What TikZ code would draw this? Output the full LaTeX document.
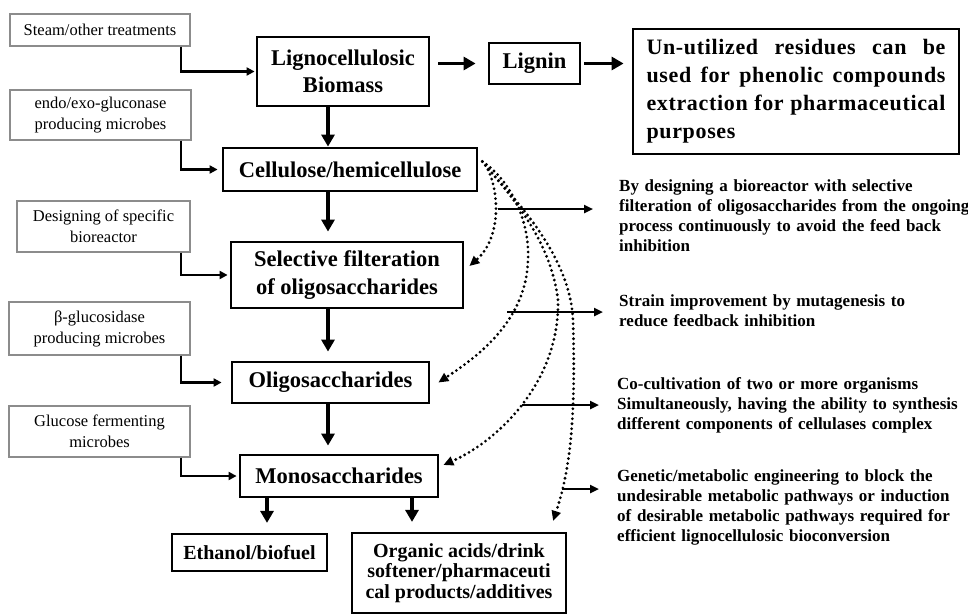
\documentclass[tikz,border=0pt]{standalone}
\usepackage{fontspec}
\setmainfont{Liberation Serif}
\newfontfamily\spacedfont[LetterSpace=3]{Liberation Serif}
\usetikzlibrary{arrows.meta}
\begin{document}
\begin{tikzpicture}[x=1pt,y=-1pt,
  mainbox/.style={draw, line width=2.8pt, align=center, inner sep=0pt,
    font={\fontsize{22.5pt}{27.5pt}\selectfont\bfseries}},
  endbox/.style={draw, line width=2.2pt, align=center, inner sep=0pt,
    font={\fontsize{20pt}{20.5pt}\selectfont\bfseries}},
  graybox/.style={draw=black!45, line width=1.2pt, align=center, inner sep=0pt,
    font={\fontsize{16.5pt}{21pt}\selectfont}},
  note/.style={anchor=north west, align=left, inner sep=0pt, text width=360pt,
    font={\fontsize{17pt}{20pt}\selectfont\bfseries}},
  bigarrow/.style={line width=3.6pt, -{Triangle[length=12pt,width=13pt]}},
  feed/.style={line width=2.2pt, -{Triangle[length=8pt,width=8pt]}},
  sidearrow/.style={line width=2.4pt, -{Triangle[length=9pt,width=8pt]}},
  dotarrow/.style={line width=3.1pt, line cap=round, dash pattern=on 0pt off 5pt,
    -{Triangle[length=10pt,width=9pt]}}
]
\useasboundingbox (0,0) rectangle (968,613);

% main column
\node[mainbox, minimum width=172pt, minimum height=69pt] (lig) at (343,71.5) {Lignocellulosic\\Biomass};
\node[mainbox, minimum width=254pt, minimum height=43pt] (cel) at (350,169.5) {Cellulose/hemicellulose};
\node[mainbox, minimum width=232pt, minimum height=66pt] (sel) at (347,275) {Selective filteration\\of oligosaccharides};
\node[mainbox, minimum width=197pt, minimum height=41pt] (oli) at (330.5,382.5) {Oligosaccharides};
\node[mainbox, minimum width=198pt, minimum height=42pt] (mon) at (339,476) {Monosaccharides};
\node[mainbox, minimum width=91pt, minimum height=41pt] (lgn) at (534.5,63.5) {Lignin};
\node[mainbox, minimum width=326pt, minimum height=125pt, text width=299pt, align=left,
  font={\fontsize{22pt}{28pt}\spacedfont\bfseries}] (unu) at (796,91.5)
  {Un-utilized\hfill residues\hfill can\hfill be\\used\hfill for\hfill phenolic\hfill compounds\\extraction\hfill for\hfill pharmaceutical\\purposes};

\node[endbox, minimum width=155pt, minimum height=37pt] (eth) at (249.5,552.5) {Ethanol/biofuel};
\node[endbox, minimum width=214pt, minimum height=80pt] (org) at (459,573) {Organic acids/drink\\softener/pharmaceuti\\cal products/additives};

% grey input boxes
\node[graybox, minimum width=180pt, minimum height=32pt] (g1) at (100,30) {Steam/other treatments};
\node[graybox, minimum width=181pt, minimum height=50pt] (g2) at (100.5,115) {endo/exo-gluconase\\producing microbes};
\node[graybox, minimum width=173pt, minimum height=51pt] (g3) at (103.5,226.5) {Designing of specific\\bioreactor};
\node[graybox, minimum width=181pt, minimum height=53pt] (g4) at (99.5,328.5) {β-glucosidase\\producing microbes};
\node[graybox, minimum width=181pt, minimum height=51pt] (g5) at (99.5,431.5) {Glucose fermenting\\microbes};

% notes on the right
\node[note] (n1) at (619,180) {By designing a bioreactor with selective\\filteration of oligosaccharides from the ongoing\\process continuously to avoid the feed back\\inhibition};
\node[note] (n2) at (619,294) {Strain improvement by mutagenesis to\\reduce feedback inhibition};
\node[note] (n3) at (617,377) {Co-cultivation of two or more organisms\\Simultaneously, having the ability to synthesis\\different components of cellulases complex};
\node[note] (n4) at (617,469) {Genetic/metabolic engineering to block the\\undesirable metabolic pathways or induction\\of desirable metabolic pathways required for\\efficient lignocellulosic bioconversion};

% feed connectors
\draw[feed, shorten >=1pt] ([xshift=-10pt]g1.south east) |- (lig.west);
\draw[feed, shorten >=4pt] ([xshift=-11pt]g2.south east) |- (cel.west);
\draw[feed, shorten >=2pt] ([xshift=-10pt]g3.south east) |- (sel.west);
\draw[feed, shorten >=9pt] ([xshift=-10pt]g4.south east) |- (oli.west);
\draw[feed, shorten >=2pt] ([xshift=-10pt]g5.south east) |- (mon.west);

% thick arrows
\coordinate (spine) at (328,0);
\coordinate (ex) at (267,0);
\coordinate (ox) at (412,0);
\draw[bigarrow] (lig.south -| spine) -- (cel.north -| spine);
\draw[bigarrow, shorten >=9pt] (cel.south -| spine) -- (sel.north -| spine);
\draw[bigarrow, shorten >=9pt] (sel.south -| spine) -- (oli.north -| spine);
\draw[bigarrow, shorten >=8pt] (oli.south -| spine) -- (mon.north -| spine);
\draw[bigarrow, shorten >=10pt] (mon.south -| ex) -- (eth.north -| ex);
\draw[bigarrow, shorten >=10pt] (mon.south -| ox) -- (org.north -| ox);
\draw[bigarrow, shorten <=8pt, shorten >=12pt] (lig.east |- lgn.west) -- (lgn.west);
\draw[bigarrow, shorten <=3pt, shorten >=8pt] (lgn.east) -- (lgn.east -| unu.west);

% dotted feedback curves
\coordinate (cs) at ([xshift=4pt,yshift=8pt]cel.east);
\draw[dotarrow] (cs) .. controls (498,178) and (505,235) .. ([xshift=5pt,yshift=9pt]sel.east);
\draw[dotarrow] (cs) .. controls (510,180) and (530,220) .. (528,260)
  .. controls (526,320) and (480,355) .. ([xshift=8pt]oli.east);
\draw[dotarrow] (cs) .. controls (505,190) and (550,235) .. (558,300)
  .. controls (560,380) and (500,440) .. ([xshift=4pt,yshift=11pt]mon.east);
\draw[dotarrow] (cs) .. controls (505,190) and (570,250) .. (573,320)
  .. controls (576,420) and (570,470) .. ([xshift=-14pt,yshift=11pt]org.north east);

% side arrows to notes
\coordinate (r1s) at (498,209); \coordinate (r1e) at (593,209);
\coordinate (r2s) at (507,312); \coordinate (r2e) at (603,312);
\coordinate (r3s) at (522,405); \coordinate (r3e) at (599,405);
\coordinate (r4s) at (562,489); \coordinate (r4e) at (599,489);
\draw[sidearrow] (r1s) -- (r1e);
\draw[sidearrow] (r2s) -- (r2e);
\draw[sidearrow] (r3s) -- (r3e);
\draw[sidearrow] (r4s) -- (r4e);
\end{tikzpicture}
\end{document}
